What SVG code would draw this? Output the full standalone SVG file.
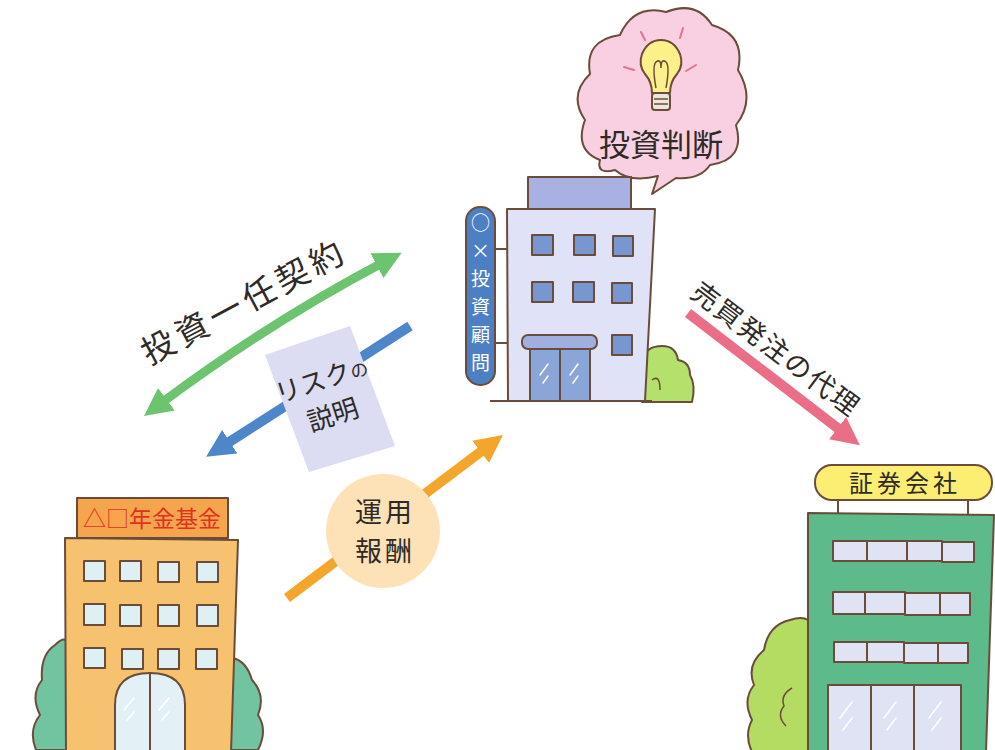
<svg xmlns="http://www.w3.org/2000/svg" width="995" height="750" viewBox="0 0 995 750">
  <style>
    .ol { stroke: #6b4c3b; stroke-width: 2; stroke-linejoin: round; }
    .jp { font-family: "Noto Sans CJK JP", "Noto Sans", sans-serif; }
    .lbl { fill: #2e2a28; }
  </style>
  <defs>
    <marker id="hGreen" viewBox="0 0 28 28" markerWidth="28" markerHeight="28" refX="8" refY="14" orient="auto-start-reverse" markerUnits="userSpaceOnUse">
      <path d="M0,0 L28,14 L0,28 z" fill="#6cc46e"/>
    </marker>
    <marker id="hBlue" viewBox="0 0 28 28" markerWidth="28" markerHeight="28" refX="8" refY="14" orient="auto" markerUnits="userSpaceOnUse">
      <path d="M0,0 L28,14 L0,28 z" fill="#4d86c9"/>
    </marker>
    <marker id="hOrange" viewBox="0 0 28 28" markerWidth="28" markerHeight="28" refX="8" refY="14" orient="auto" markerUnits="userSpaceOnUse">
      <path d="M0,0 L28,14 L0,28 z" fill="#f3a62b"/>
    </marker>
    <marker id="hPink" viewBox="0 0 28 28" markerWidth="28" markerHeight="28" refX="8" refY="14" orient="auto" markerUnits="userSpaceOnUse">
      <path d="M0,0 L28,14 L0,28 z" fill="#ea6f86"/>
    </marker>
  </defs>

  <rect width="995" height="750" fill="#ffffff"/>

  <!-- thought bubble above the advisor -->
  <g id="bubble">
    <path class="ol" fill="#f9d0e1" d="M600 160 Q574 150 585 120 Q568 95 590 74 Q584 40 620 35 Q634 4 666 12 Q696 0 712 25 Q746 35 738 70 Q756 100 736 125 Q746 160 710 165 Q700 180 676 178 L652 194 L658 176 Q630 183 615 170 Q596 175 600 160 Z"/>
    <g stroke="#e8708e" stroke-width="2" stroke-linecap="round">
      <line x1="641" y1="32" x2="645" y2="40"/>
      <line x1="683" y1="28" x2="680" y2="38"/>
      <line x1="624" y1="67" x2="634" y2="70"/>
      <line x1="686" y1="71" x2="696" y2="65"/>
    </g>
    <path class="ol" fill="#fbf08a" d="M652 93 Q652 82 645 74 Q638 65 642 54 Q648 40 661 40 Q674 40 680 54 Q684 65 677 74 Q670 82 670 93 Z"/>
    <path d="M656 88 Q652 66 656 62 Q661 58 661 68 Q661 58 666 62 Q670 66 666 88" fill="none" stroke="#6b4c3b" stroke-width="1.5"/>
    <rect class="ol" x="652" y="93" width="18" height="17" rx="3" fill="#e9e6dc"/>
    <line x1="654" y1="99" x2="668" y2="99" stroke="#6b4c3b" stroke-width="1.5"/>
    <line x1="654" y1="104" x2="668" y2="104" stroke="#6b4c3b" stroke-width="1.5"/>
    <text class="jp lbl" x="661" y="156" font-size="31" text-anchor="middle">投資判断</text>
  </g>

  <!-- connectors -->
  <g id="connectors">
    <path d="M160 404 Q270 322 384 262" fill="none" stroke="#6cc46e" stroke-width="9" marker-start="url(#hGreen)" marker-end="url(#hGreen)"/>
    <path d="M410 326 L223 446" fill="none" stroke="#4d86c9" stroke-width="10" marker-end="url(#hBlue)"/>
    <path d="M287 598 L487 447" fill="none" stroke="#f3a62b" stroke-width="10" marker-end="url(#hOrange)"/>
    <path d="M688 313 L844 433" fill="none" stroke="#ea6f86" stroke-width="10" marker-end="url(#hPink)"/>
    <text class="jp lbl" x="250" y="312" font-size="33" letter-spacing="5" text-anchor="middle" transform="rotate(-28 250 312)">投資一任契約</text>
    <text class="jp lbl" x="770" y="357" font-size="27" letter-spacing="2" text-anchor="middle" transform="rotate(37 770 357)">売買発注の代理</text>
  </g>

  <!-- risk explanation document -->
  <g id="risk-doc">
    <path d="M265 355 L350 326 L395 446 L309 472 Z" fill="#dcdcf3"/>
    <g transform="rotate(-18 328 400)">
      <text class="jp lbl" x="328" y="388" font-size="26" text-anchor="middle">リスク<tspan font-size="18">の</tspan></text>
      <text class="jp lbl" x="328" y="425" font-size="26" text-anchor="middle">説明</text>
    </g>
  </g>

  <!-- management fee badge -->
  <g id="fee">
    <circle cx="383" cy="531" r="57" fill="#fde2b8"/>
    <text class="jp lbl" x="385" y="522" font-size="27" letter-spacing="3" text-anchor="middle">運用</text>
    <text class="jp lbl" x="385" y="561" font-size="27" letter-spacing="3" text-anchor="middle">報酬</text>
  </g>

  <!-- investment advisor building -->
  <g id="advisor">
    <path class="ol" fill="#b4e06c" d="M642 402 L642 360 Q646 346 662 346 Q676 346 678 360 Q690 362 690 375 Q696 385 692 402 Z"/>
    <path d="M652 380 Q660 374 660 390" fill="none" stroke="#6b4c3b" stroke-width="1.5"/>
    <rect class="ol" x="528" y="177" width="103" height="32" fill="#a9b1e3"/>
    <path class="ol" fill="#e0e2f7" d="M507 209 L655 209 L645 401 L508 401 Z"/>
    <line class="ol" x1="490" y1="401" x2="652" y2="401"/>
    <g class="ol" fill="#7896cf">
      <rect x="532" y="235" width="21" height="20"/>
      <rect x="574" y="235" width="21" height="20"/>
      <rect x="613" y="236" width="20" height="20"/>
      <rect x="532" y="282" width="21" height="20"/>
      <rect x="573" y="282" width="21" height="20"/>
      <rect x="612" y="283" width="20" height="20"/>
      <rect x="612" y="335" width="20" height="20"/>
    </g>
    <rect class="ol" x="530" y="347" width="60" height="54" fill="#8aa6d8"/>
    <line class="ol" x1="560" y1="347" x2="560" y2="401"/>
    <rect class="ol" x="522" y="335" width="75" height="14" rx="6" fill="#9fb0e0"/>
    <g stroke="#ffffff" stroke-width="1.5" stroke-linecap="round">
      <line x1="540" y1="375" x2="548" y2="364"/>
      <line x1="543" y1="383" x2="548" y2="376"/>
      <line x1="570" y1="375" x2="578" y2="364"/>
      <line x1="573" y1="383" x2="578" y2="376"/>
    </g>
    <line class="ol" x1="494" y1="249" x2="507" y2="249"/>
    <line class="ol" x1="494" y1="343" x2="507" y2="343"/>
    <rect class="ol" x="466" y="207" width="29" height="178" rx="14" fill="#4d7fc4"/>
    <g class="jp" fill="#ffffff" font-size="19" text-anchor="middle">
      <text x="480.5" y="230">○</text>
      <text x="480.5" y="258">×</text>
      <text x="480.5" y="286">投</text>
      <text x="480.5" y="314">資</text>
      <text x="480.5" y="342">顧</text>
      <text x="480.5" y="370">問</text>
    </g>
  </g>

  <!-- pension fund building -->
  <g id="pension-fund">
    <path class="ol" fill="#72c3a0" d="M66 750 L36 750 Q28 730 40 715 Q30 695 42 680 Q40 655 55 645 Q62 638 66 640 Z"/>
    <path class="ol" fill="#72c3a0" d="M229 750 L258 750 Q268 730 258 715 Q266 695 252 680 Q246 660 232 658 Z"/>
    <rect class="ol" x="77" y="498" width="151" height="40" fill="#f6a54f"/>
    <text class="jp" x="152" y="527" font-size="23" fill="#e0321e" text-anchor="middle">△□年金基金</text>
    <path class="ol" fill="#f7c26f" d="M65 538 L238 540 L231 752 L66 752 Z"/>
    <g class="ol" fill="#dff0f4">
      <rect x="84" y="561" width="21" height="20"/>
      <rect x="120" y="561" width="21" height="20"/>
      <rect x="158" y="562" width="21" height="20"/>
      <rect x="197" y="562" width="21" height="20"/>
      <rect x="84" y="604" width="21" height="21"/>
      <rect x="120" y="605" width="21" height="21"/>
      <rect x="158" y="605" width="21" height="21"/>
      <rect x="197" y="605" width="21" height="21"/>
      <rect x="84" y="648" width="21" height="20"/>
      <rect x="122" y="649" width="21" height="20"/>
      <rect x="158" y="649" width="21" height="20"/>
      <rect x="196" y="649" width="21" height="20"/>
    </g>
    <path class="ol" fill="#e3f1f6" d="M115 752 L115 705 Q115 673 150 673 Q185 673 185 705 L185 752 Z"/>
    <line class="ol" x1="150" y1="673" x2="150" y2="752"/>
    <g stroke="#ffffff" stroke-width="1.5" stroke-linecap="round">
      <line x1="124" y1="710" x2="134" y2="698"/>
      <line x1="127" y1="720" x2="134" y2="712"/>
      <line x1="159" y1="710" x2="169" y2="698"/>
      <line x1="162" y1="720" x2="169" y2="712"/>
    </g>
  </g>

  <!-- securities company building -->
  <g id="securities">
    <path class="ol" fill="#b4dc62" d="M808 752 L752 752 Q744 735 752 720 Q742 700 754 685 Q746 665 764 650 Q768 625 790 620 Q802 616 808 620 Z"/>
    <path d="M792 688 Q780 695 784 706 Q776 716 786 726" fill="none" stroke="#6b4c3b" stroke-width="1.5"/>
    <line class="ol" x1="838" y1="500" x2="838" y2="515" stroke-width="4"/>
    <line class="ol" x1="968" y1="500" x2="968" y2="515" stroke-width="4"/>
    <rect class="ol" x="815" y="465" width="177" height="35" rx="17" fill="#fcee72"/>
    <text class="jp lbl" x="905" y="492" font-size="24" letter-spacing="4" text-anchor="middle">証券会社</text>
    <path class="ol" fill="#5dba8b" d="M808 513 L994 515 L986 752 L808 752 Z"/>
    <g class="ol" fill="#dfe3f3">
      <rect x="833" y="541" width="34" height="20"/>
      <rect x="867" y="541" width="40" height="20"/>
      <rect x="907" y="541" width="35" height="20"/>
      <rect x="942" y="542" width="32" height="20"/>
      <rect x="833" y="592" width="32" height="22"/>
      <rect x="865" y="592" width="40" height="22"/>
      <rect x="905" y="593" width="35" height="22"/>
      <rect x="940" y="593" width="30" height="22"/>
      <rect x="834" y="642" width="33" height="20"/>
      <rect x="867" y="642" width="37" height="20"/>
      <rect x="904" y="643" width="34" height="20"/>
      <rect x="938" y="643" width="30" height="20"/>
      <rect x="828" y="685" width="43" height="67"/>
      <rect x="871" y="685" width="43" height="67"/>
      <rect x="914" y="685" width="47" height="67"/>
    </g>
    <g stroke="#ffffff" stroke-width="1.5" stroke-linecap="round">
      <line x1="840" y1="718" x2="852" y2="702"/>
      <line x1="843" y1="730" x2="852" y2="718"/>
      <line x1="884" y1="718" x2="896" y2="702"/>
      <line x1="887" y1="730" x2="896" y2="718"/>
      <line x1="929" y1="718" x2="941" y2="702"/>
      <line x1="932" y1="730" x2="941" y2="718"/>
    </g>
  </g>
</svg>
